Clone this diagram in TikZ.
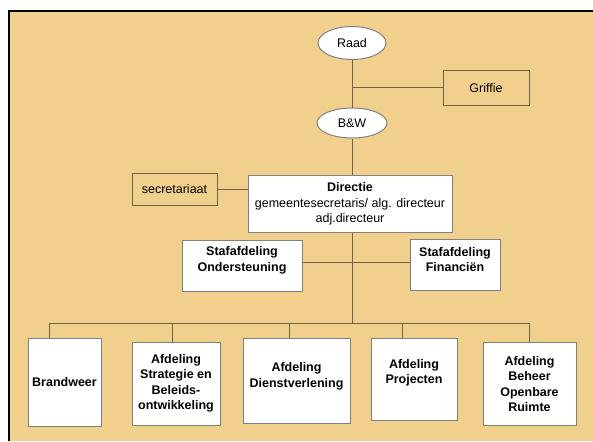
\documentclass[tikz,border=0pt]{standalone}
\usepackage{fontspec}
\setmainfont{Liberation Sans}
\usetikzlibrary{shapes.geometric}
\definecolor{bgtan}{RGB}{241,208,142}
\definecolor{linec}{RGB}{112,98,72}
\definecolor{boxgray}{RGB}{128,128,128}
\tikzset{
  txt/.style={font=\fontsize{12.5}{15.5}\selectfont, align=center},
  btxt/.style={font=\fontsize{12.5}{15.5}\selectfont\bfseries, align=center},
  oval/.style={ellipse, draw=boxgray, fill=white, line width=1pt, inner sep=0pt, txt},
  tanbox/.style={rectangle, draw=linec, fill=bgtan, line width=1pt, inner sep=0pt, txt},
  whitebox/.style={rectangle, draw=boxgray, fill=white, line width=1pt, inner sep=0pt},
  conn/.style={draw=linec, line width=1pt}
}
\begin{document}
\begin{tikzpicture}[x=1pt,y=-1pt]
\useasboundingbox (0,0) rectangle (593,441);
\fill[white] (0,0) rectangle (593,441);
\fill[bgtan] (9,11) rectangle (593,441);
\draw[black, line width=2pt] (9,441) -- (9,11) -- (593,11);

% top
\node[oval, minimum width=68pt, minimum height=33pt] (raad) at (352,43) {Raad};
\node[tanbox, minimum width=86pt, minimum height=34pt] (griffie) at (486,88) {Griffie};
\node[oval, minimum width=70pt, minimum height=30pt] (bw) at (352,123) {B\&W};
\node[whitebox, txt, minimum width=204pt, minimum height=57pt] (dir) at (350,204)
  {\textbf{Directie}\\gemeentesecretaris/ alg. directeur\\adj.directeur};
\node[tanbox, minimum width=85pt, minimum height=32pt] (secr) at (174.5,189) {secretariaat};

\node[whitebox, minimum width=120pt, minimum height=51pt,
  label={[btxt, yshift=5pt]center:Stafafdeling\\Ondersteuning}] (onder) at (242,265.5) {};
\node[whitebox, minimum width=90pt, minimum height=51pt,
  label={[btxt, yshift=5pt]center:Stafafdeling\\Financiën}] (fin) at (455,264.5) {};

% bottom row
\node[whitebox, btxt, minimum width=73pt, minimum height=88pt] (brand) at (64.5,382) {Brandweer};
\node[whitebox, btxt, minimum width=88pt, minimum height=83pt] (strat) at (176,383.5)
  {Afdeling\\Strategie en\\Beleids-\\ontwikkeling};
\node[whitebox, minimum width=107pt, minimum height=85pt,
  label={[btxt, yshift=4pt]center:Afdeling\\Dienstverlening}] (dienst) at (296.5,380.5) {};
\node[whitebox, minimum width=86pt, minimum height=82pt,
  label={[btxt, yshift=6pt]center:Afdeling\\Projecten}] (proj) at (414,379) {};
\node[whitebox, btxt, minimum width=93pt, minimum height=83pt] (beheer) at (529.5,384)
  {Afdeling\\Beheer\\Openbare\\Ruimte};

% connector coordinates
\coordinate (gj) at (352,88);
\coordinate (bus) at (352,323);
\coordinate (b1) at (49,323);
\coordinate (b2) at (172,323);
\coordinate (b3) at (289,323);
\coordinate (b4) at (402,323);
\coordinate (b5) at (529,323);

% connectors
\draw[conn] (raad.south) -- (bw.north);
\draw[conn] (gj) -- (griffie.west);
\draw[conn] (bw.south) -- (bw.south |- dir.north);
\draw[conn] (secr.east) -- (secr.east -| dir.west);
\draw[conn] (dir.south -| bus) -- (bus);
\draw[conn] ([yshift=3pt]onder.east) -- ([yshift=3pt]onder.east -| fin.west);
\draw[conn] (b1) -- (b5);
\draw[conn] (b1) -- (b1 |- brand.north);
\draw[conn] (b2) -- (b2 |- strat.north);
\draw[conn] (b3) -- (b3 |- dienst.north);
\draw[conn] (b4) -- (b4 |- proj.north);
\draw[conn] (b5) -- (b5 |- beheer.north);
\end{tikzpicture}
\end{document}
